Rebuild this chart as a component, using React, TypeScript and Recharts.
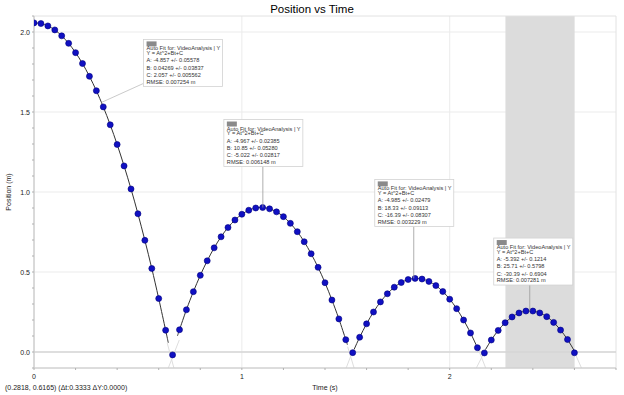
import React from 'react';
import {
  ComposedChart,
  XAxis,
  YAxis,
  CartesianGrid,
  Line,
  Scatter,
  ReferenceArea,
  ReferenceLine,
  ReferenceDot,
} from 'recharts';

// video analysis samples (30 fps)
const times = [
  0.0, 0.0333, 0.0667, 0.1, 0.1333, 0.1667, 0.2, 0.2333, 0.2667, 0.3,
  0.3333, 0.3667, 0.4, 0.4333, 0.4667, 0.5, 0.5333, 0.5667, 0.6, 0.6333,
  0.6667, 0.7, 0.7333, 0.7667, 0.8, 0.8333, 0.8667, 0.9, 0.9333, 0.9667,
  1.0, 1.0333, 1.0667, 1.1, 1.1333, 1.1667, 1.2, 1.2333, 1.2667, 1.3,
  1.3333, 1.3667, 1.4, 1.4333, 1.4667, 1.5, 1.5333, 1.5667, 1.6, 1.6333,
  1.6667, 1.7, 1.7333, 1.7667, 1.8, 1.8333, 1.8667, 1.9, 1.9333, 1.9667,
  2.0, 2.0333, 2.0667, 2.1, 2.1333, 2.1667, 2.2, 2.2333, 2.2667, 2.3,
  2.3333, 2.3667, 2.4, 2.4333, 2.4667, 2.5, 2.5333, 2.5667, 2.6,
];

const positions = [
  2.057, 2.053, 2.038, 2.013, 1.976, 1.929, 1.871, 1.803, 1.723, 1.633,
  1.532, 1.42, 1.297, 1.163, 1.019, 0.864, 0.698, 0.522, 0.334, 0.136,
  -0.018, 0.139, 0.264, 0.377, 0.479, 0.57, 0.651, 0.72, 0.778, 0.825,
  0.861, 0.886, 0.9, 0.903, 0.895, 0.876, 0.846, 0.804, 0.752, 0.689,
  0.614, 0.529, 0.433, 0.325, 0.207, 0.077, -0.004, 0.092, 0.176, 0.25,
  0.313, 0.364, 0.405, 0.434, 0.453, 0.46, 0.456, 0.441, 0.415, 0.378,
  0.33, 0.271, 0.2, 0.119, 0.027, -0.006, 0.075, 0.135, 0.183, 0.219,
  0.244, 0.256, 0.256, 0.244, 0.221, 0.185, 0.137, 0.078, -0.005,
];

// the four auto fits: which samples they cover and where the fit curve starts / ends
const fitFirst = [0, 21, 47, 66];
const fitLast = [19, 45, 64, 77];
const fitStartT = [null, 0.69, 1.54, 2.172];
const fitStartY = [null, 0.1, 0.016, 0.015];
const fitEndT = [0.646, 1.508, 2.14, 2.6];
const fitEndY = [0.058, 0.045, 0.007, 0.006];

const fitA = ['-4.857 +/- 0.05578', '-4.967 +/- 0.02385', '-4.985 +/- 0.02479', '-5.392 +/- 0.1214'];
const fitB = ['0.04269 +/- 0.03837', '10.85 +/- 0.05280', '18.33 +/- 0.09113', '25.71 +/- 0.5798'];
const fitC = ['2.057 +/- 0.005562', '-5.022 +/- 0.02817', '-16.39 +/- 0.08307', '-30.39 +/- 0.6904'];
const fitRmse = ['0.007254 m', '0.006148 m', '0.003229 m', '0.007281 m'];

// where each fit box points on its curve
const annoT = [0.325, 1.101, 1.827, 2.385];
const annoY = [1.56, 0.903, 0.46, 0.256];

// faint extrapolated fit curves near the bounces
const extLines = [
  [[0.641, 0.056], [0.673, -0.1]],
  [[0.699, 0.075], [0.646, -0.1]],
  [[1.509, 0.033], [1.54, -0.1]],
  [[1.532, 0.002], [1.502, -0.1]],
  [[2.136, 0.023], [2.173, -0.1]],
  [[2.168, 0.002], [2.128, -0.1]],
  [[2.6, 0.0], [2.634, -0.1]],
];

const selection = [2.268, 2.601];

const xTicks = [0, 0.2, 0.4, 0.6, 0.8, 1, 1.2, 1.4, 1.6, 1.8, 2, 2.2, 2.4, 2.6, 2.8];
const xMajor = [0, 1, 2];
const xTickLabels = ['0', '1', '2'];
const yTicks = [
  -0.1, 0, 0.1, 0.2, 0.3, 0.4, 0.5, 0.6, 0.7, 0.8, 0.9, 1, 1.1, 1.2, 1.3, 1.4, 1.5, 1.6,
  1.7, 1.8, 1.9, 2, 2.1,
];
const yMajor = [0, 0.5, 1, 1.5, 2];
const yTickLabels = ['0.0', '0.5', '1.0', '1.5', '2.0'];

const FONT = '"Liberation Sans", Arial, sans-serif';

// box layout (pixels, relative to the anchor on the curve)
const boxDx = [42, -39, -39, -36];
const boxDy = [-63, -88, -99, -73];
const BOX_W = 79;
const BOX_H = 47;

const points = times.map((t, i) => ({ t, y: positions[i] }));

const fitSeries = fitFirst.map((first, k) => {
  const arr: { t: number; y: number }[] = [];
  if (fitStartT[k] !== null) arr.push({ t: fitStartT[k] as number, y: fitStartY[k] as number });
  arr.push(...points.slice(first, fitLast[k] + 1));
  arr.push({ t: fitEndT[k], y: fitEndY[k] });
  return arr;
});

const extSeries = extLines.map((seg) => seg.map(([t, y]) => ({ t, y })));

const XTick = (props: any) => {
  const { x, y, payload } = props;
  const idx = xMajor.indexOf(payload.value);
  if (idx < 0) return null;
  return (
    <text x={x} y={y} dy={7} textAnchor="middle" fontSize={7} fill="#222" fontFamily={FONT}>
      {xTickLabels[idx]}
    </text>
  );
};

const YTick = (props: any) => {
  const { x, y, payload } = props;
  const idx = yMajor.indexOf(payload.value);
  if (idx < 0) return null;
  return (
    <text x={x} y={y} dy={2.5} textAnchor="end" fontSize={7} fill="#222" fontFamily={FONT}>
      {yTickLabels[idx]}
    </text>
  );
};

const FitBox = ({ cx, cy, k }: { cx: number; cy: number; k: number }) => {
  const left = cx + boxDx[k];
  const top = cy + boxDy[k];
  const lines = [
    'Auto Fit for: VideoAnalysis | Y',
    'Y = At^2+Bt+C',
    'A: ' + fitA[k],
    'B: ' + fitB[k],
    'C: ' + fitC[k],
    'RMSE: ' + fitRmse[k],
  ];
  const baselines = [11, 15.5, 23, 30.3, 37.6, 44.2];
  return (
    <g>
      {k === 0 ? (
        <line x1={cx} y1={cy} x2={left} y2={top + 44} stroke="#bdbdbd" strokeWidth={0.8} />
      ) : (
        <line x1={cx} y1={cy} x2={cx} y2={top + BOX_H} stroke="#9a9a9a" strokeWidth={0.8} />
      )}
      <rect x={left} y={top} width={BOX_W} height={BOX_H} fill="#fff" stroke="#d2d2d2" strokeWidth={0.8} />
      <rect x={left + 3} y={top + 2} width={10} height={5} fill="#8a8a8a" />
      {lines.map((s, i) => (
        <text key={i} x={left + 3} y={top + baselines[i]} fontSize={5.6} fill="#333" fontFamily={FONT}>
          {s}
        </text>
      ))}
    </g>
  );
};

const Dot = (props: any) => (
  <circle cx={props.cx} cy={props.cy} r={3} fill="#1010c2" stroke="#00007e" strokeWidth={0.6} />
);

export default function App() {
  return (
    <div style={{ position: 'absolute', left: 0, top: 0, width: 624, height: 395, background: '#fff' }}>
      <ComposedChart width={624} height={395} margin={{ top: 16, right: 8, bottom: 0, left: 0 }}>
        <ReferenceArea
          x1={selection[0]}
          x2={selection[1]}
          fill="#dcdcdc"
          fillOpacity={1}
          stroke="none"
          ifOverflow="hidden"
        />
        <CartesianGrid
          stroke="#ebebeb"
          horizontalValues={yMajor}
          verticalValues={xMajor}
        />
        <ReferenceArea x1={0} x2={2.8} y1={-0.1} y2={2.1} fill="none" stroke="#e2e2e2" />
        <ReferenceLine y={0} stroke="#d6d6d6" strokeWidth={1.5} />
        <XAxis
          type="number"
          dataKey="t"
          domain={[0, 2.8]}
          ticks={xTicks}
          interval={0}
          allowDataOverflow
          height={27}
          tickSize={2}
          tickMargin={2}
          tick={<XTick />}
          axisLine={{ stroke: '#c8c8c8' }}
          tickLine={{ stroke: '#b0b0b0' }}
        />
        <YAxis
          type="number"
          dataKey="y"
          domain={[-0.1, 2.1]}
          ticks={yTicks}
          interval={0}
          allowDataOverflow
          width={34}
          tickSize={2}
          tickMargin={2}
          tick={<YTick />}
          axisLine={{ stroke: '#c8c8c8' }}
          tickLine={{ stroke: '#b0b0b0' }}
        />
        {extSeries.map((d, i) => (
          <Line
            key={'ext' + i}
            data={d}
            dataKey="y"
            type="linear"
            stroke="#dedede"
            strokeWidth={1}
            dot={false}
            activeDot={false}
            isAnimationActive={false}
          />
        ))}
        {fitSeries.map((d, i) => (
          <Line
            key={'fit' + i}
            data={d}
            dataKey="y"
            type="natural"
            stroke="#333"
            strokeWidth={1}
            dot={false}
            activeDot={false}
            isAnimationActive={false}
          />
        ))}
        <Scatter data={points} dataKey="y" shape={<Dot />} isAnimationActive={false} />
        {annoT.map((t, k) => (
          <ReferenceDot
            key={'box' + k}
            x={t}
            y={annoY[k]}
            r={0}
            ifOverflow="visible"
            shape={(p: any) => <FitBox cx={p.cx} cy={p.cy} k={k} />}
          />
        ))}
      </ComposedChart>
      <svg
        width={624}
        height={395}
        style={{ position: 'absolute', left: 0, top: 0, pointerEvents: 'none' }}
      >
        <text x={312} y={13} textAnchor="middle" fontSize={11.5} fill="#000" fontFamily={FONT}>
          Position vs Time
        </text>
        <text
          x={8.5}
          y={192}
          transform="rotate(-90 8.5 192)"
          textAnchor="middle"
          dominantBaseline="central"
          fontSize={7}
          fill="#222"
          fontFamily={FONT}
        >
          Position (m)
        </text>
        <text x={325} y={390} textAnchor="middle" fontSize={7} fill="#222" fontFamily={FONT}>
          Time (s)
        </text>
        <text x={5} y={389.5} fontSize={7} fill="#222" fontFamily={FONT}>
          (0.2818, 0.6165) (Δt:0.3333 ΔY:0.0000)
        </text>
      </svg>
    </div>
  );
}
